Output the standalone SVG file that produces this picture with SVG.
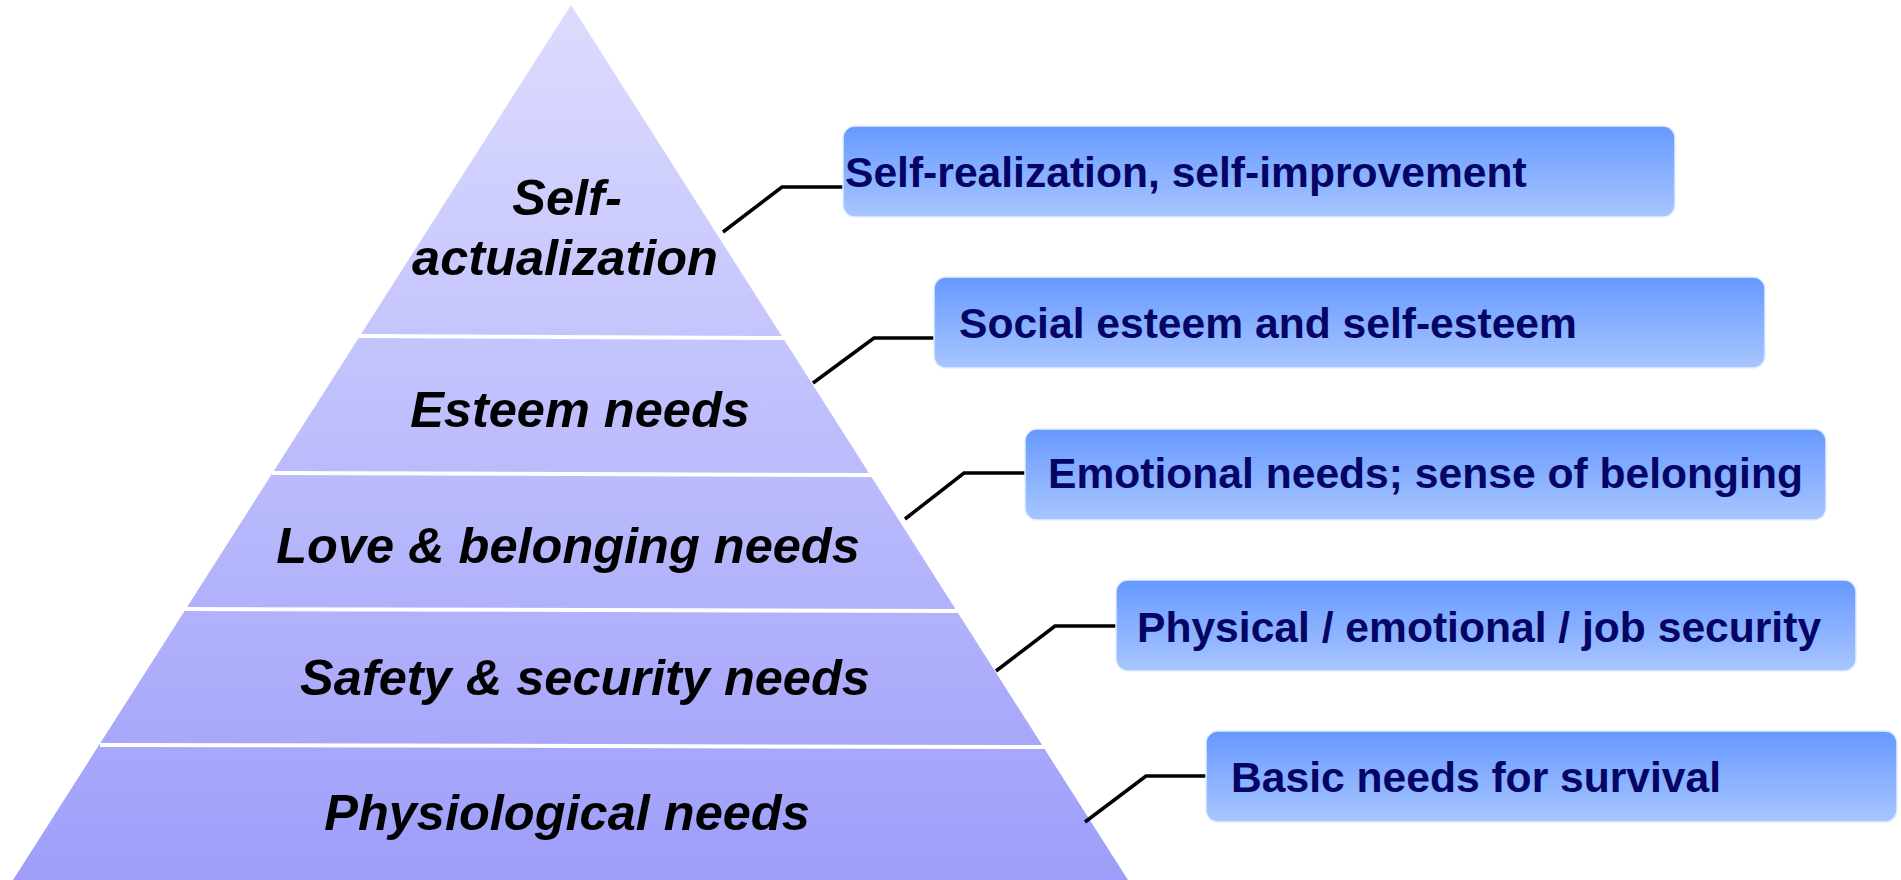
<svg xmlns="http://www.w3.org/2000/svg" width="1901" height="880" viewBox="0 0 1901 880">
  <defs>
    <linearGradient id="pyr" x1="0" y1="5" x2="0" y2="880" gradientUnits="userSpaceOnUse">
      <stop offset="0" stop-color="#DCDCFF"/>
      <stop offset="1" stop-color="#9E9EFA"/>
    </linearGradient>
    <linearGradient id="box" x1="0" y1="0" x2="0" y2="1">
      <stop offset="0" stop-color="#6699FF"/>
      <stop offset="1" stop-color="#A8C6FF"/>
    </linearGradient>
    <style>
      .sep { stroke: #FFFFFF; stroke-width: 4; fill: none; }
      .lvl { font-family: "Liberation Sans", Arial, sans-serif; font-weight: bold; font-style: italic; font-size: 50.5px; fill: #000000; text-anchor: middle; }
      .bx { fill: url(#box); stroke: #E4EDFF; stroke-width: 1.5; }
      .bt { font-family: "Liberation Sans", Arial, sans-serif; font-weight: bold; font-size: 42.6px; fill: #050565; }
      .con { stroke: #000000; stroke-width: 3.5; fill: none; }
    </style>
  </defs>
  <rect width="1901" height="880" fill="#FFFFFF"/>

  <g id="pyramid">
    <polygon points="571,5 13,880 1128,880" fill="url(#pyr)"/>
    <line class="sep" x1="358" y1="336" x2="784" y2="338"/>
    <line class="sep" x1="272" y1="473" x2="871" y2="475"/>
    <line class="sep" x1="185" y1="609" x2="958" y2="611"/>
    <line class="sep" x1="100" y1="745" x2="1044" y2="747"/>
  </g>

  <g id="level-self-actualization">
    <text class="lvl" x="567" y="215">Self-</text>
    <text class="lvl" x="565" y="275">actualization</text>
  </g>
  <g id="level-esteem">
    <text class="lvl" x="580" y="427">Esteem needs</text>
  </g>
  <g id="level-love">
    <text class="lvl" x="568" y="563">Love &amp; belonging needs</text>
  </g>
  <g id="level-safety">
    <text class="lvl" x="585" y="695">Safety &amp; security needs</text>
  </g>
  <g id="level-physiological">
    <text class="lvl" x="567" y="830">Physiological needs</text>
  </g>

  <g id="connectors">
    <polyline class="con" points="723,232 782,187 844,187"/>
    <polyline class="con" points="813,383 874,338 935,338"/>
    <polyline class="con" points="905,519 964,473 1026,473"/>
    <polyline class="con" points="996,671 1055,626 1117,626"/>
    <polyline class="con" points="1085,822 1146,776 1207,776"/>
  </g>

  <g id="box-self-realization">
    <rect class="bx" x="843" y="126" width="832" height="91" rx="12"/>
    <text class="bt" x="845" y="187">Self-realization, self-improvement</text>
  </g>
  <g id="box-social-esteem">
    <rect class="bx" x="934" y="277" width="831" height="91" rx="12"/>
    <text class="bt" x="959" y="338">Social esteem and self-esteem</text>
  </g>
  <g id="box-emotional">
    <rect class="bx" x="1025" y="429" width="801" height="91" rx="12"/>
    <text class="bt" x="1048" y="488">Emotional needs; sense of belonging</text>
  </g>
  <g id="box-physical">
    <rect class="bx" x="1116" y="580" width="740" height="91" rx="12"/>
    <text class="bt" x="1137" y="642">Physical / emotional / job security</text>
  </g>
  <g id="box-basic">
    <rect class="bx" x="1206" y="731" width="691" height="91" rx="12"/>
    <text class="bt" x="1231" y="792">Basic needs for survival</text>
  </g>
</svg>
